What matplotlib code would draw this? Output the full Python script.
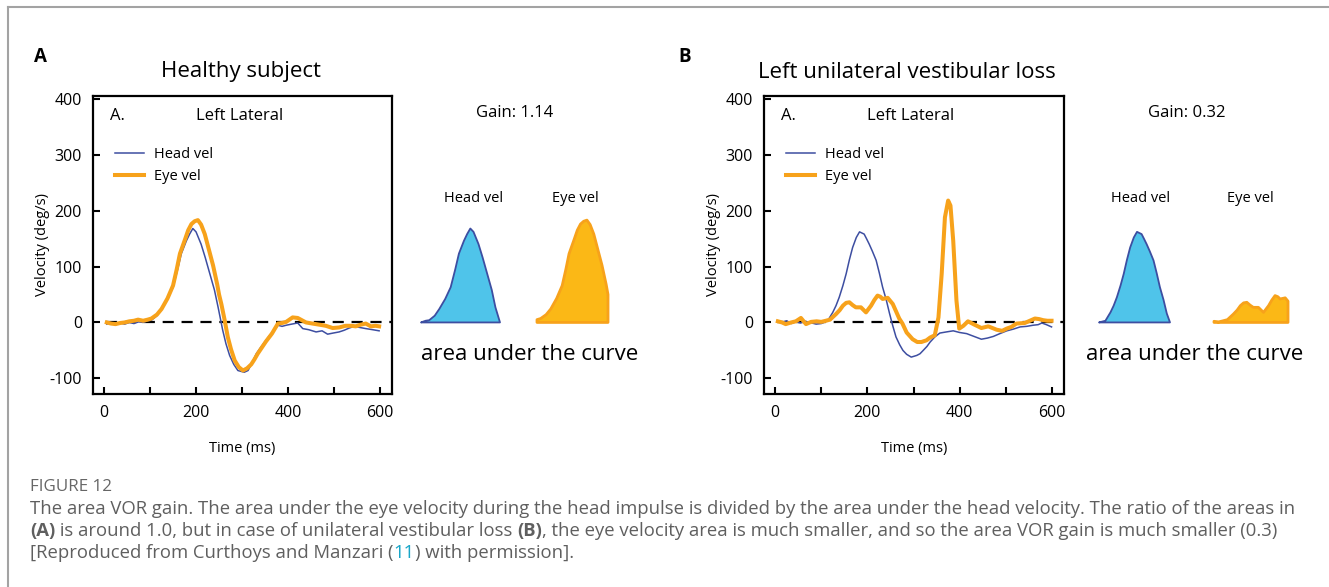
import numpy as np
import matplotlib as mpl
mpl.use('Agg')
import matplotlib.pyplot as plt
from matplotlib.lines import Line2D

W, H = 1329, 587

# ---- data (time in ms, velocity in deg/s) ----
a_head_t = [6, 15, 25, 35, 45, 55, 65, 75, 85, 95, 103, 115, 125, 138, 150, 160, 168, 179, 186,
            193, 200, 211, 220, 230, 240, 248, 258, 265, 273, 282, 291, 300, 305, 313, 322, 331,
            342, 352, 365, 378, 387, 396, 408, 421, 432, 445, 461, 474, 486, 498, 511, 522, 533,
            544, 556, 569, 584, 598]
a_head_v = [-3, 0, -4, -1, -3, 0, -2, 1, 0, 3, 4, 12, 24, 42, 63, 95, 123, 146, 158,
            168, 162, 140, 116, 87, 58, 27, -14, -38, -59, -75, -86, -88, -89, -86, -72, -56,
            -43, -32, -18, -5, -7, -5, -3, -1, -11, -13, -17, -15, -21, -19, -17, -14, -10,
            -7, -9, -11, -13, -15]

a_eye_t = [6, 15, 25, 35, 45, 55, 65, 74, 85, 95, 103, 115, 125, 138, 150, 158, 165, 175, 183,
           190, 197, 204, 211, 219, 228, 237, 246, 250, 255, 262, 269, 276, 284, 293, 302, 311,
           320, 327, 334, 343, 352, 365, 378, 387, 396, 403, 410, 421, 430, 439, 453, 468, 482,
           497, 511, 525, 538, 547, 558, 569, 580, 590, 598]
a_eye_v = [0, -2, -3, -1, 0, 2, 3, 5, 3, 5, 7, 14, 24, 43, 66, 95, 123, 146, 165,
           176, 181, 183, 175, 158, 130, 102, 68, 50, 33, 5, -26, -48, -68, -80, -86, -82,
           -75, -66, -56, -45, -34, -20, -2, -1, 1, 5, 9, 8, 4, 0, -2, -4, -6,
           -10, -9, -6, -6, -7, -4, -2, -7, -6, -7]

b_head_t = [6, 15, 25, 35, 45, 55, 65, 75, 89, 100, 114, 125, 132, 139, 147, 154, 161, 168, 176,
            183, 188, 193, 198, 204, 211, 219, 226, 233, 241, 248, 255, 262, 270, 277, 285, 295,
            307, 314, 321, 329, 336, 346, 357, 371, 386, 400, 415, 431, 447, 460, 473, 487, 502,
            516, 531, 545, 559, 570, 578, 588, 599]
b_head_v = [2, 0, 3, -2, 1, -1, 2, 0, -3, -2, 3, 18, 30, 45, 66, 87, 112, 134, 152,
            162, 160, 158, 150, 140, 127, 111, 88, 63, 40, 16, -6, -26, -40, -50, -57, -62,
            -59, -56, -50, -43, -35, -26, -19, -17, -15, -18, -20, -25, -30, -28, -25, -20, -15,
            -12, -8, -7, -5, -4, -1, -4, -8]

b_eye_t = [6, 15, 23, 35, 45, 56, 67, 78, 90, 100, 110, 119, 132, 140, 147, 154, 161, 168, 175,
           186, 197, 208, 215, 222, 228, 233, 244, 250, 255, 262, 269, 276, 285, 298, 308, 317,
           328, 336, 346, 354, 361, 368, 375, 380, 386, 393, 399, 408, 418, 432, 447, 462, 480,
           492, 502, 512, 523, 541, 552, 563, 572, 581, 590, 599]
b_eye_v = [2, 0, -3, 0, 2, 8, -3, 1, 2, 1, 3, 5, 15, 22, 30, 35, 36, 31, 27,
           27, 18, 30, 40, 48, 46, 42, 44, 38, 33, 20, 7, -2, -18, -30, -35, -35,
           -32, -27, -23, 9, 87, 188, 218, 209, 146, 39, -11, -6, 2, -4, -10, -7, -13,
           -15, -11, -8, -2, -1, 3, 7, 6, 4, 3, 3]

x_ticks = [0, 100, 200, 300, 400, 500, 600]
x_labels = ['0', '', '200', '', '400', '', '600']
y_ticks = [-100, 0, 100, 200, 300, 400]

BLUE = '#3d4ea1'
ORANGE = '#f7a21b'
CYAN = '#4fc4ea'
GOLD = '#fbb816'

plt.rcParams['font.family'] = ['Open Sans', 'DejaVu Sans']
plt.rcParams['axes.unicode_minus'] = False

fig = plt.figure(figsize=(W / 100, H / 100), dpi=100)


def fx(x):
    return x / W


def fy(y):
    return 1 - y / H


def box(x0, y0, x1, y1):
    return [x0 / W, 1 - y1 / H, (x1 - x0) / W, (y1 - y0) / H]


def main_panel(x0, x1, th, vh, te, ve):
    ax = fig.add_axes(box(x0, 96, x1, 394))
    ax.plot(th, vh, color=BLUE, lw=1.1, label='Head vel')
    ax.plot(te, ve, color=ORANGE, lw=2.9, label='Eye vel', solid_joinstyle='round')
    ax.axhline(0, xmin=0.043, color='k', lw=1.6, dashes=(5, 3.5), zorder=0)
    ax.set_xlim(-24, 626)
    ax.set_ylim(-128, 405)
    ax.set_xticks(x_ticks)
    ax.set_xticklabels(x_labels)
    ax.set_yticks(y_ticks)
    ax.tick_params(direction='in', length=5, width=1.5, labelsize=11.5, pad=8)
    for s in ax.spines.values():
        s.set_linewidth(1.6)
    ax.set_xlabel('Time (ms)', fontsize=10.5)
    ax.xaxis.set_label_coords(0.5, -0.158)
    ax.set_ylabel('Velocity (deg/s)', fontsize=10.5)
    ax.yaxis.set_label_coords(-0.144, 0.5)
    ax.text(0.057, 0.932, 'A.', transform=ax.transAxes, fontsize=12, va='center')
    ax.text(0.49, 0.932, 'Left Lateral', transform=ax.transAxes, fontsize=12,
            ha='center', va='center')
    ax.legend(loc='upper left', bbox_to_anchor=(0.074, 0.828), frameon=False,
              handlelength=1.95, handletextpad=0.7, labelspacing=0.45,
              borderpad=0, borderaxespad=0, fontsize=10.5)
    return ax


def area_shape(x0, x1, t, v, t0, t1, face, edge, lw):
    t = np.asarray(t, float)
    v = np.asarray(v, float)
    m = (t >= t0) & (t <= t1)
    ts, vs = t[m], np.clip(v[m], 0, None)
    ax = fig.add_axes(box(x0, 96, x1, 394))
    ax.fill(np.r_[ts[0], ts, ts[-1]], np.r_[0, vs, 0], facecolor=face,
            edgecolor=edge, lw=lw, joinstyle='round', clip_on=False)
    ax.set_xlim(ts[0], ts[-1])
    ax.set_ylim(-128, 405)
    ax.axis('off')


main_panel(93, 392, a_head_t, a_head_v, a_eye_t, a_eye_v)
main_panel(764, 1064, b_head_t, b_head_v, b_eye_t, b_eye_v)

area_shape(421, 500, a_head_t, a_head_v, 85, 258, CYAN, BLUE, 1.3)
area_shape(537, 608, a_eye_t, a_eye_v, 95, 250, GOLD, ORANGE, 2.0)
area_shape(1099, 1170, b_head_t, b_head_v, 100, 255, CYAN, BLUE, 1.3)
area_shape(1214, 1288, b_eye_t, b_eye_v, 90, 250, GOLD, ORANGE, 2.0)

# panel letters, titles and annotations
fig.text(fx(40), fy(57), 'A', fontsize=13.5, weight='bold', ha='center', va='center')
fig.text(fx(685), fy(57), 'B', fontsize=13.5, weight='bold', ha='center', va='center')
fig.text(fx(241), fy(72), 'Healthy subject', fontsize=16, ha='center', va='center')
fig.text(fx(907), fy(72), 'Left unilateral vestibular loss', fontsize=16, ha='center', va='center')

for cx, gain in [(515, 'Gain: 1.14'), (1187, 'Gain: 0.32')]:
    fig.text(fx(cx), fy(113), gain, fontsize=12, ha='center', va='center')
for cx, lab in [(474, 'Head vel'), (575, 'Eye vel'), (1141, 'Head vel'), (1250, 'Eye vel')]:
    fig.text(fx(cx), fy(198), lab, fontsize=10.5, ha='center', va='center')
for cx in [530, 1195]:
    fig.text(fx(cx), fy(355), 'area under the curve', fontsize=16, ha='center', va='center')

# caption
CAP = '#5f5f5f'
renderer = fig.canvas.get_renderer()


def text_w(s, size, weight='normal'):
    t = fig.text(0, 0, '|' + s + '|', fontsize=size, weight=weight)
    t2 = fig.text(0, 0, '||', fontsize=size, weight=weight)
    w = t.get_window_extent(renderer).width - t2.get_window_extent(renderer).width
    t.remove()
    t2.remove()
    return w


line1 = ('The area VOR gain. The area under the eye velocity during the head impulse is divided '
         'by the area under the head velocity. The ratio of the areas in')
cap_size = 10 * 1263 / text_w(line1, 10)


def runs(x, y, parts):
    for s, weight, color in parts:
        fig.text(fx(x), fy(y), s, fontsize=cap_size, weight=weight, color=color, va='center')
        x += text_w(s, cap_size, weight)


fig.text(fx(30), fy(487), 'FIGURE 12', fontsize=cap_size * 0.92, color='#666666', va='center')
runs(30, 509, [(line1, 'normal', CAP)])
runs(30, 531, [('(A)', 'bold', CAP),
               (' is around 1.0, but in case of unilateral vestibular loss ', 'normal', CAP),
               ('(B)', 'bold', CAP),
               (', the eye velocity area is much smaller, and so the area VOR gain is much '
                'smaller (0.3)', 'normal', CAP)])
runs(30, 553, [('[Reproduced from Curthoys and Manzari (', 'normal', CAP),
               ('11', 'normal', '#1aa6c8'),
               (') with permission].', 'normal', CAP)])

# frame lines of the page
fig.add_artist(Line2D([fx(8), fx(8)], [fy(7), 0], color='#a3a3a3', lw=1.5))
fig.add_artist(Line2D([fx(8), 1], [fy(7), fy(7)], color='#a3a3a3', lw=1.5))

fig.savefig('out.png', dpi=100)
